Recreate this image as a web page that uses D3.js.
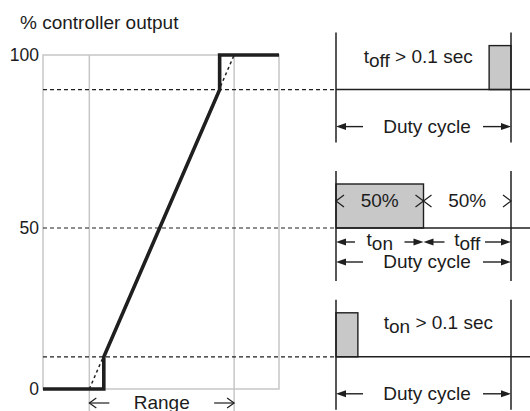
<!DOCTYPE html>
<html lang="en">
<head>
<meta charset="UTF-8">
<title>Controller output and duty cycle</title>
<script src="https://d3js.org/d3.v7.min.js"></script>
<style>
  body {margin: 0; background: #fff;}
  svg text {font-family: "Liberation Sans", Arial, sans-serif; fill: #1c1c1c;}
</style>
</head>
<body>
<div id="chart"></div>
<script>
// y axis tick values and their labels
const tickValues = [0, 50, 100];
const tickLabels = ["0", "50", "100"];
// output levels linked to the three duty cycle panels
const panelLevels = [90, 50, 10];
// controller curve: input (% of range) vs output (%)
const curveInput = [-32, 10, 10, 90, 90, 131];
const curveOutput = [0, 0, 10, 90, 100, 100];
// proportional range limits (input %)
const rangeLimits = [0, 100];
// pulse position within the duty cycle (fraction)
const pulseStart = [0.875, 0, 0];
const pulseEnd = [1, 0.5, 0.125];

const width = 530, height = 411;
const fs = "19px";
const svg = d3.select("#chart").append("svg")
  .attr("width", width).attr("height", height);

const x = d3.scaleLinear().domain([-32, 131]).range([43, 279]);
const y = d3.scaleLinear().domain([0, 50, 100]).range([389, 228, 55]);
const cyc = d3.scaleLinear().domain([0, 1]).range([336, 511]);

const ink = "#1f1f1f";
const grey = "#c6c6c6";

// title
svg.append("text").attr("x", 20).attr("y", 29)
  .style("font-size", fs).text("% controller output");

// box + range grid lines
const box = svg.append("g");
box.append("rect")
  .attr("x", x(-32)).attr("y", y(100))
  .attr("width", x(131) - x(-32)).attr("height", y(0) - y(100))
  .attr("fill", "none").attr("stroke", grey).attr("stroke-width", 1.5);
box.selectAll(".rl").data(rangeLimits).enter().append("line")
  .attr("x1", d => x(d)).attr("x2", d => x(d))
  .attr("y1", y(100)).attr("y2", height)
  .attr("stroke", grey).attr("stroke-width", 1.5);

// tick labels
svg.selectAll(".tick").data(tickValues).enter().append("text")
  .attr("x", 39).attr("y", d => y(d))
  .attr("dy", "0.36em").attr("text-anchor", "end")
  .style("font-size", "17.5px")
  .text((d, i) => tickLabels[i]);

// dashed reference lines to the panels
svg.selectAll(".ref").data(panelLevels).enter().append("line")
  .attr("x1", x(-32)).attr("x2", cyc(0))
  .attr("y1", d => y(d)).attr("y2", d => y(d))
  .attr("stroke", ink).attr("stroke-width", 1.2)
  .attr("stroke-dasharray", "4,3");

// ideal linear response (dotted, straight)
svg.append("line")
  .attr("x1", x(rangeLimits[0])).attr("y1", y(0))
  .attr("x2", x(rangeLimits[1])).attr("y2", y(100))
  .attr("stroke", ink).attr("stroke-width", 1.5)
  .attr("stroke-dasharray", "3,3");

// controller curve
const curve = curveInput.map((v, i) => [x(v), y(curveOutput[i])]);
svg.append("path")
  .attr("d", d3.line()(curve))
  .attr("fill", "none").attr("stroke", ink)
  .attr("stroke-width", 3.6).attr("stroke-linejoin", "miter");

// arrow helpers
function filledArrow(g, tip, tail, yy) {
  const dir = tail > tip ? 1 : -1;
  g.append("line").attr("x1", tail).attr("x2", tip + dir * 6)
    .attr("y1", yy).attr("y2", yy).attr("stroke", ink).attr("stroke-width", 1.4);
  g.append("path")
    .attr("d", `M${tip},${yy} L${tip + dir * 10},${yy - 3.5} L${tip + dir * 10},${yy + 3.5} Z`)
    .attr("fill", ink);
}
function openHead(g, tip, yy, dir, len, half) {
  g.append("path")
    .attr("d", `M${tip + dir * len},${yy - half} L${tip},${yy} L${tip + dir * len},${yy + half}`)
    .attr("fill", "none").attr("stroke", ink).attr("stroke-width", 1.2);
}
function subText(g, cx, yy, main, sub, rest) {
  const t = g.append("text").attr("x", cx).attr("y", yy)
    .attr("text-anchor", "middle").style("font-size", fs);
  t.append("tspan").text(main);
  t.append("tspan").attr("dy", 4).text(sub);
  if (rest) t.append("tspan").attr("dy", -4).text(rest);
  return t;
}

// range arrows
const ry = y(0) + 14;
const rg = svg.append("g");
[[rangeLimits[0], 1], [rangeLimits[1], -1]].forEach(([v, dir]) => {
  rg.append("line").attr("x1", x(v)).attr("x2", x(v) + dir * 20)
    .attr("y1", ry).attr("y2", ry).attr("stroke", ink).attr("stroke-width", 1.2);
  openHead(rg, x(v), ry, dir, 7, 5);
});
rg.append("text").attr("x", x((rangeLimits[0] + rangeLimits[1]) / 2)).attr("y", ry + 6)
  .attr("text-anchor", "middle").style("font-size", fs).text("Range");

// duty cycle panels
panelLevels.forEach((lvl, i) => {
  const g = svg.append("g").attr("transform", `translate(0,${y(lvl)})`);
  // pulse
  g.append("rect")
    .attr("x", cyc(pulseStart[i])).attr("y", -44)
    .attr("width", cyc(pulseEnd[i]) - cyc(pulseStart[i])).attr("height", 44)
    .attr("fill", "#c8c8c8").attr("stroke", ink).attr("stroke-width", 1.4);
  // baseline and cycle bounds
  g.append("line").attr("x1", cyc(0)).attr("x2", width).attr("y1", 0).attr("y2", 0)
    .attr("stroke", ink).attr("stroke-width", 1.5);
  [0, 1].forEach(v => {
    g.append("line").attr("x1", cyc(v)).attr("x2", cyc(v)).attr("y1", -57).attr("y2", 53)
      .attr("stroke", ink).attr("stroke-width", 1.5);
  });
  // duty cycle arrow
  const dy = i === 1 ? 34 : 37;
  filledArrow(g, cyc(0), cyc(0) + 27, dy);
  filledArrow(g, cyc(1), cyc(1) - 28, dy);
  g.append("text").attr("x", cyc(0.52)).attr("y", dy + 6)
    .attr("text-anchor", "middle").style("font-size", fs).text("Duty cycle");
});

// panel 1 label (90%)
const p1 = svg.append("g").attr("transform", `translate(0,${y(panelLevels[0])})`);
subText(p1, cyc(0.47), -27, "t", "off", " > 0.1 sec");

// panel 2 labels (50%)
const p2 = svg.append("g").attr("transform", `translate(0,${y(panelLevels[1])})`);
const mid = pulseEnd[1];
[[0, mid], [mid, 1]].forEach(([a, b]) => {
  p2.append("text").attr("x", cyc((a + b) / 2)).attr("y", -21)
    .attr("text-anchor", "middle").style("font-size", fs).text("50%");
  openHead(p2, cyc(a), -27, 1, 8, 6);
  openHead(p2, cyc(b), -27, -1, 8, 6);
});
filledArrow(p2, cyc(0), cyc(0) + 19, 14);
filledArrow(p2, cyc(mid), cyc(mid) - 19, 14);
filledArrow(p2, cyc(mid), cyc(mid) + 21, 14);
filledArrow(p2, cyc(1), cyc(1) - 26, 14);
subText(p2, cyc(mid / 2), 18, "t", "on");
subText(p2, cyc((mid + 1) / 2), 18, "t", "off");

// panel 3 label (10%)
const p3 = svg.append("g").attr("transform", `translate(0,${y(panelLevels[2])})`);
subText(p3, cyc(0.585), -28, "t", "on", " > 0.1 sec");
</script>
</body>
</html>
